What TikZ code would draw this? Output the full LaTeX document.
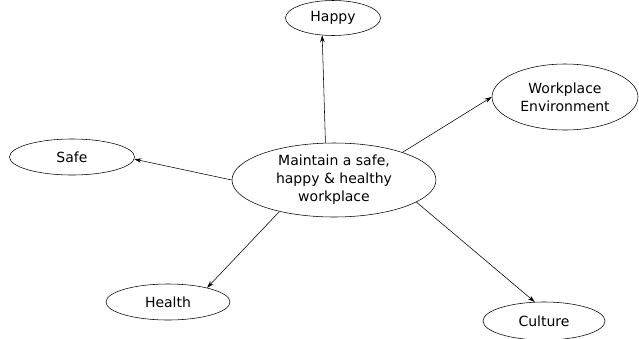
\documentclass[tikz,border=0pt]{standalone}
\usepackage{fontspec}
\setmainfont{DejaVu Sans}
\usetikzlibrary{shapes.geometric,arrows.meta}
\begin{document}
\begin{tikzpicture}[x=1pt,y=-1pt,
  bubble/.style={draw, ellipse, inner sep=0pt, line width=0.55pt, font=\fontsize{14}{18}\selectfont, align=center},
  link/.style={draw, line width=0.55pt, -{Stealth[length=7pt,width=4.5pt]}}]
\clip (0,0) rectangle (639,338);
\useasboundingbox (0,0) rectangle (639,338);
\node[bubble, minimum width=204pt, minimum height=74pt] (core) at (334,180) {Maintain a safe,\\happy \& healthy\\workplace};
\node[bubble, minimum width=95pt, minimum height=35pt] (happy) at (333,18) {Happy};
\node[bubble, minimum width=146pt, minimum height=66pt] (env) at (565,97) {Workplace\\Environment};
\node[bubble, minimum width=125pt, minimum height=36pt] (safe) at (72,157) {Safe};
\node[bubble, minimum width=124pt, minimum height=36pt] (health) at (168,302) {Health};
\node[bubble, minimum width=122pt, minimum height=38pt] (culture) at (544,321) {Culture};
\draw[link] (core.103.7) -- (happy.-122);
\draw[link] (core.22.7) -- (env.180);
\draw[link] (core.180) -- (safe.-2);
\draw[link] (core.-150.6) -- (health.20.6);
\draw[link] (core.-15.7) -- (culture.116.6);
\end{tikzpicture}
\end{document}
